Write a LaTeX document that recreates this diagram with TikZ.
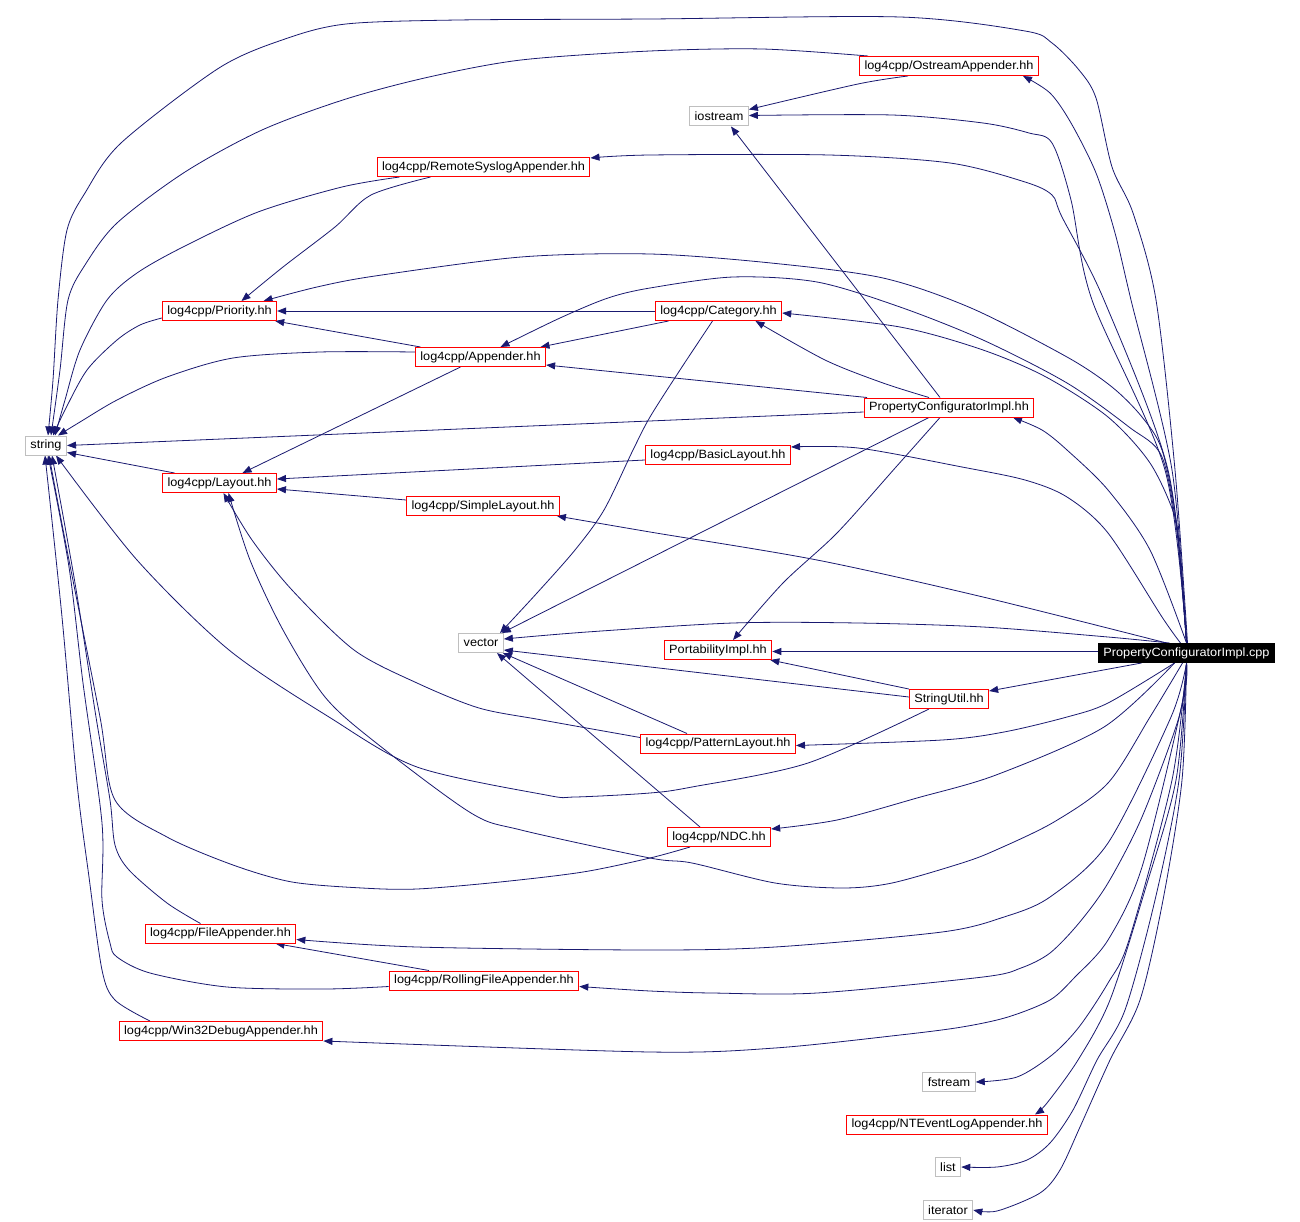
\documentclass[tikz,border=0pt]{standalone}
\usepackage{fontspec}
\setmainfont{Liberation Sans}
\newfontfamily\dfont[FakeStretch=1.06]{Liberation Sans}
\usetikzlibrary{arrows.meta,backgrounds}
\definecolor{navy}{RGB}{25,25,112}
\definecolor{boxgray}{RGB}{191,191,191}
\begin{document}
\begin{tikzpicture}[x=1pt,y=-1pt,
  box/.style={rectangle,inner xsep=5pt,inner ysep=0pt,minimum height=19pt,font=\dfont\fontsize{12}{14}\selectfont,fill=white,line width=1pt},
  inc/.style={box,draw=red},
  sys/.style={box,draw=boxgray},
  root/.style={box,draw=black,fill=black,text=white},
  dep/.style={draw=navy,line width=0.8pt,-{Triangle[length=9pt,width=7pt]}}]
\useasboundingbox (0,0) rectangle (1300,1222);

\node[inc] (ostream) at (949,66) {log4cpp/OstreamAppender.hh};
\node[sys] (iostream) at (719,116.5) {iostream};
\node[inc] (remote) at (483.5,167) {log4cpp/RemoteSyslogAppender.hh};
\node[inc] (priority) at (219.5,311) {log4cpp/Priority.hh};
\node[inc] (category) at (718.5,311) {log4cpp/Category.hh};
\node[inc] (appender) at (480.5,357) {log4cpp/Appender.hh};
\node[inc] (pcih) at (949,407.5) {PropertyConfiguratorImpl.hh};
\node[sys] (string) at (46,445.5) {string};
\node[inc] (basic) at (718,455) {log4cpp/BasicLayout.hh};
\node[inc] (layout) at (219.5,483) {log4cpp/Layout.hh};
\node[inc] (simple) at (483,506) {log4cpp/SimpleLayout.hh};
\node[sys] (vector) at (481,643) {vector};
\node[inc] (port) at (718,650) {PortabilityImpl.hh};
\node[root] (cpp) at (1186.5,653) {PropertyConfiguratorImpl.cpp};
\node[inc] (strutil) at (949,699) {StringUtil.hh};
\node[inc] (pattern) at (718,743.5) {log4cpp/PatternLayout.hh};
\node[inc] (ndc) at (719,837) {log4cpp/NDC.hh};
\node[inc] (fileapp) at (220.5,933.5) {log4cpp/FileAppender.hh};
\node[inc] (rolling) at (484,980.5) {log4cpp/RollingFileAppender.hh};
\node[inc] (win32) at (221,1031) {log4cpp/Win32DebugAppender.hh};
\node[sys] (fstream) at (949,1082) {fstream};
\node[inc] (ntevent) at (947,1124.5) {log4cpp/NTEventLogAppender.hh};
\node[sys] (list) at (948,1167) {list};
\node[sys] (iterator) at (948,1210) {iterator};

\begin{scope}[on background layer]
\fill[white] (0,0) rectangle (1300,1222);
% top region
\draw[dep] plot[smooth,tension=.5] coordinates {([xshift=1pt]cpp.north) (1175,470) (1156,300) (1133,213) (1112,167) (1096,98) (1079,70) (1052,43) (1025,31) (900,17) (650,19) (458,20) (346,24) (285,39) (219,68) (121,143) (85,193) (67,230) (58,300) (53,380) ([xshift=2pt]string.north)};
\draw[dep] plot[smooth,tension=.5] coordinates {([xshift=9pt]ostream.north west) (762,49) (650,51) (521,60) (429,77) (346,99) (262,130) (185,172) (117,223) (85,265) (68,300) (60,370) ([xshift=5pt]string.north)};
\draw[dep] plot[smooth,tension=.5] coordinates {([xshift=23pt]remote.south west) (342,187) (258,212) (183,247) (137,273) (107,300) (80,350) (65,400) ([xshift=9pt]string.north)};
\draw[dep] plot[smooth,tension=.5] coordinates {([xshift=54pt]remote.south west) (371,195) (335,227) (283,267) ([xshift=22pt]priority.north)};
\draw[dep] plot[smooth,tension=.5] coordinates {([yshift=-7pt]priority.west) (140,325) (117,340) (87,370) (65,410) ([xshift=7pt]string.north)};
\draw[dep] plot[smooth,tension=.5] coordinates {([yshift=5pt]appender.west) (320,352) (233,358) (167,377) (117,400) (80,422) ([xshift=12pt]string.north)};
\draw[dep] ([xshift=-60pt]appender.north) -- ([xshift=-2pt]priority.south east);
\draw[dep] (category.west) -- (priority.east);
\draw[dep] ([xshift=-50pt]category.south) -- ([xshift=60pt]appender.north);
\draw[dep] plot[smooth,tension=.5] coordinates {([xshift=-6pt]category.south) (680,370) (650,417) (633,450) (604,510) (575,550) (537,593) ([xshift=19pt]vector.north)};
\draw[dep] ([xshift=-20pt]appender.south) -- ([xshift=23pt]layout.north);
\draw[dep] ([xshift=-45pt]layout.north) -- ([yshift=-7pt]string.east);
\draw[dep] ([yshift=-5pt]basic.west) -- ([yshift=4pt]layout.east);
\draw[dep] ([yshift=6pt]simple.west) -- ([yshift=-6pt]layout.east);
\draw[dep] ([yshift=-4.5pt]pcih.west) -- (string.east);
\draw[dep] ([xshift=-9pt]pcih.north) -- ([xshift=12pt]iostream.south);
\draw[dep] ([xshift=-82pt]pcih.north) -- ([yshift=-8pt]appender.east);
\draw[dep] plot[smooth,tension=.5] coordinates {([xshift=-20pt]pcih.north) (883,383) (825,360) ([xshift=37pt]category.south)};
\draw[dep] ([xshift=-20pt]pcih.south) -- ([xshift=-2pt]vector.north east);
\draw[dep] plot[smooth,tension=.5] coordinates {([xshift=-9pt]pcih.south) (896,467) (837,533) (783,583) ([xshift=15pt]port.north)};
\draw[dep] plot[smooth,tension=.5] coordinates {([xshift=-41pt]ostream.south) (858,84) ([yshift=7pt]iostream.east)};
% from cpp upwards
\draw[dep] plot[smooth,tension=.5] coordinates {(cpp.north) (1165,470) (1092,300) (1071,200) (1052,143) (1029,133) (983,123) (892,115) ([yshift=1pt]iostream.east)};
\draw[dep] plot[smooth,tension=.5] coordinates {(cpp.north) (1168,470) (1104,300) (1062,217) (1052,195) (1025,182) (950,163) (829,155) (650,155) ([yshift=9pt]remote.east)};
\draw[dep] plot[smooth,tension=.5] coordinates {(cpp.north) (1172,470) (1131,300) (1115,233) (1096,173) (1071,123) (1050,93) ([xshift=74pt]ostream.south)};
\draw[dep] plot[smooth,tension=.5] coordinates {(cpp.north) (1176,520) (1162,450) (1142,417) (1112,387) (1067,357) (971,308) (883,278) (771,263) (650,254) (521,257) (375,276) (317,287) ([xshift=44pt]priority.north)};
\draw[dep] plot[smooth,tension=.5] coordinates {(cpp.north) (1178,540) (1162,457) (1129,427) (1067,383) (983,340) (900,307) (817,282) (733,277) (650,288) (608,298) (560,318) ([xshift=20pt]appender.north)};
\draw[dep] plot[smooth,tension=.5] coordinates {(cpp.north) (1180,560) (1175,517) (1150,463) (1108,417) (1046,377) (983,350) (900,327) ([yshift=-2pt]category.east)};
\draw[dep] plot[smooth,tension=.5] coordinates {(cpp.north) (1150,550) (1108,490) (1067,450) (1042,430) ([xshift=64pt]pcih.south)};
\draw[dep] plot[smooth,tension=.5] coordinates {([xshift=-6pt]cpp.north) (1162,617) (1108,533) (1067,497) (1025,480) (962,467) (858,448) ([yshift=8pt]basic.east)};
\draw[dep] plot[smooth,tension=.5] coordinates {([xshift=-20pt]cpp.north) (983,597) (817,560) (650,532) ([xshift=-3pt]simple.south east)};
\draw[dep] plot[smooth,tension=.5] coordinates {([xshift=-17pt]cpp.north) (1108,637) (983,627) (858,623) (733,623) (587,632) ([yshift=4pt]vector.east)};
\draw[dep] ([yshift=1.5pt]cpp.west) -- ([yshift=-1.5pt]port.east);
% middle
\draw[dep] ([xshift=-45pt]cpp.south) -- ([yshift=8pt]strutil.east);
\draw[dep] (strutil.north west) -- ([xshift=-2pt]port.south east);
\draw[dep] ([yshift=2pt]strutil.west) -- ([yshift=-7pt]vector.east);
\draw[dep] plot[smooth,tension=.5] coordinates {([xshift=-12pt]cpp.south) (1108,703) (1067,717) (1004,732) (942,740) ([yshift=-2pt]pattern.east)};
\draw[dep] ([xshift=-31pt]pattern.north) -- ([xshift=-1pt]vector.south east);
\draw[dep] plot[smooth,tension=.5] coordinates {([yshift=6pt]pattern.west) (542,720) (479,708) (417,683) (354,650) (292,590) (252,540) ([xshift=4pt]layout.south)};
\draw[dep] ([xshift=-19pt]ndc.north) -- ([xshift=16pt]vector.south);
\draw[dep] plot[smooth,tension=.5] coordinates {([xshift=-20pt]strutil.south) (808,763) (692,787) (650,793) (575,797) (546,795) (417,767) (329,717) (229,650) (137,560) ([xshift=10pt]string.south)};
\draw[dep] plot[smooth,tension=.5] coordinates {([xshift=-29pt]ndc.south) (650,858) (583,872) (500,882) (417,889) (362,888) (292,882) (233,865) (167,837) (115,800) (100,717) (67,550) ([xshift=3pt]string.south)};
\draw[dep] plot[smooth,tension=.5] coordinates {([xshift=-4pt]cpp.south) (1150,717) (1108,783) (1054,822) (996,850) (962,863) (892,883) (842,888) (775,883) (692,863) (650,858) (521,830) (471,813) (375,742) (325,697) (283,630) (250,560) ([xshift=9pt]layout.south)};
\draw[dep] plot[smooth,tension=.5] coordinates {([xshift=-12pt]cpp.south) (1104,727) (996,775) (917,798) (837,820) ([yshift=8pt]ndc.east)};
% lower
\draw[dep] plot[smooth,tension=.5] coordinates {(cpp.south) (1171,717) (1108,843) (1050,897) (1004,917) (942,932) (775,947) (650,950) (417,947) ([yshift=-6pt]fileapp.east)};
\draw[dep] ([xshift=-55pt]rolling.north) -- ([xshift=55pt]fileapp.south);
\draw[dep] plot[smooth,tension=.5] coordinates {(cpp.south) (1179,717) (1142,817) (1108,883) (1079,923) (1050,953) (1021,968) (983,977) (817,993) (712,993) (650,991) ([yshift=-6pt]rolling.east)};
\draw[dep] plot[smooth,tension=.5] coordinates {(cpp.south) (1183,700) (1142,867) (1108,940) (1075,977) (1050,1000) (1008,1017) (962,1027) (900,1035) (775,1048) (650,1052) ([yshift=-10pt]win32.east)};
\draw[dep] plot[smooth,tension=.5] coordinates {([xshift=-20pt]fileapp.north) (167,903) (129,870) (115,845) (110,800) (96,717) (75,583) ([xshift=6pt]string.south)};
\draw[dep] plot[smooth,tension=.5] coordinates {([yshift=-6pt]rolling.west) (325,989) (227,987) (150,973) (117,957) (110,943) (102,900) (102,823) (83,683) (69,567) ([xshift=2pt]string.south)};
\draw[dep] plot[smooth,tension=.5] coordinates {([xshift=-71pt]win32.north) (115,1000) (102,970) (89,877) (77,783) (62,617) ([xshift=-1pt]string.south)};
\draw[dep] plot[smooth,tension=.5] coordinates {(cpp.south) (1172,780) (1129,940) (1108,983) (1079,1027) (1052,1055) (1017,1077) (fstream.east)};
\draw[dep] plot[smooth,tension=.5] coordinates {(cpp.south) (1176,780) (1145,890) (1110,1000) (1078,1060) (1047,1103) ([xshift=88pt]ntevent.north)};
\draw[dep] plot[smooth,tension=.5] coordinates {(cpp.south) (1179,780) (1155,900) (1125,1010) (1097,1060) (1073,1110) (1050,1143) (1027,1160) (997,1167) (list.east)};
\draw[dep] plot[smooth,tension=.5] coordinates {(cpp.south) (1182,780) (1163,900) (1140,1000) (1110,1060) (1080,1127) (1060,1170) (1040,1193) (997,1211) (iterator.east)};
\end{scope}
\end{tikzpicture}
\end{document}
